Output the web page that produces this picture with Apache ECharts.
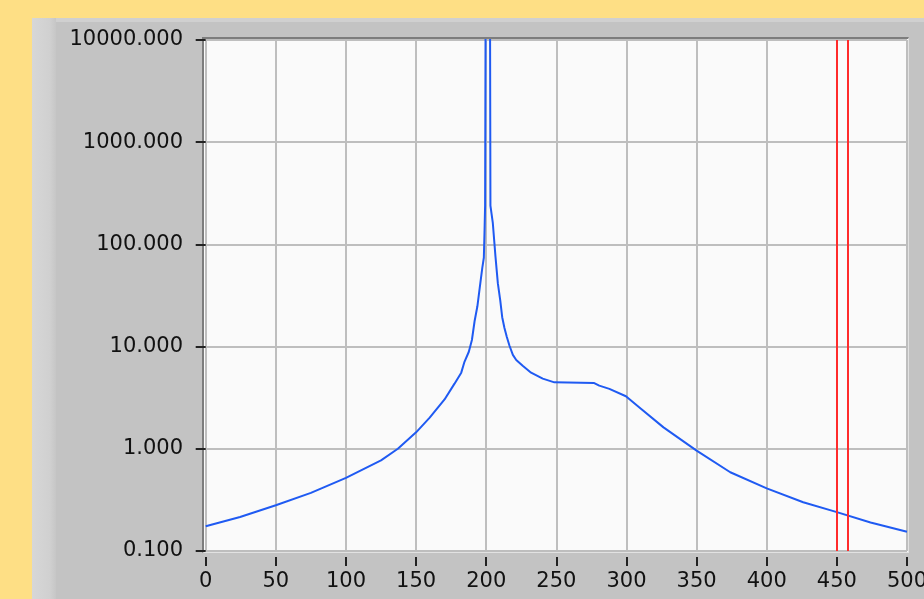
<!DOCTYPE html>
<html>
<head>
<meta charset="utf-8">
<script src="https://cdn.jsdelivr.net/npm/echarts@6/dist/echarts.min.js"></script>
<style>
  html, body { margin: 0; padding: 0; }
  body { width: 924px; height: 599px; background: #FEDF85; position: relative; overflow: hidden; }
  .panel { position: absolute; left: 32px; top: 18px; right: 0; bottom: 0; background: #C3C3C3; border-top: 4px solid #D0D0D0; box-sizing: border-box; }
  .panel-side { position: absolute; left: 32px; top: 18px; width: 24px; bottom: 0; background: linear-gradient(to right, #D7D7D7, #D0D0D0 75%, #C6C6C6); }
  .plot-bg { position: absolute; left: 202px; top: 37px; width: 707px; height: 516px; box-sizing: border-box; background: #FAFAFA; border-left: 2px solid #7D7D7D; border-top: 2px solid #7D7D7D; border-right: 1px solid #E2E2E2; border-bottom: 1px solid #E2E2E2; }
  #chart { position: absolute; left: 0; top: 0; width: 924px; height: 599px; }
</style>
</head>
<body>
<div class="panel"></div>
<div class="panel-side"></div>
<div class="plot-bg"></div>
<div id="chart"></div>
<script>
// 频率点（横轴）
var freqX = [0, 24.5, 50, 75, 100, 125, 137, 150, 159.7, 170.3, 177.4, 182.2, 184.5, 187.6, 189.8, 191.7, 193.7, 195.3, 197.2,
             198.3, 198.8, 199.2, 199.7, 202.6, 203.0, 204.7, 206.6, 208.3, 210, 211.4, 213, 214.7, 216.6, 219, 221.4, 226,
             232, 240.3, 248.6, 277, 280.6, 287.8, 299.6, 310.3, 326.4, 350, 374, 400, 426, 450, 474, 500];
// 幅值（纵轴，对数）
var ampY = [0.175, 0.215, 0.28, 0.37, 0.52, 0.77, 1.0, 1.45, 2.02, 3.04, 4.34, 5.56, 7.1, 8.9, 11.6, 17.7, 24.8, 37, 59,
            74, 136, 240, 100000, 100000, 240, 162, 76, 41.5, 28.4, 19.4, 15.2, 12.4, 10.2, 8.3, 7.4, 6.5,
            5.56, 4.86, 4.47, 4.4, 4.15, 3.86, 3.27, 2.47, 1.62, 0.96, 0.59, 0.41, 0.30, 0.24, 0.19, 0.154];
// 红色游标位置
var cursors = [450, 458];

var xMin = 0, xMax = 500, xStep = 50;
var yMin = 0.1, yMax = 10000;

var myChart = echarts.init(document.getElementById('chart'));

var curve = [];
for (var i = 0; i < freqX.length; i++) {
  curve.push([freqX[i], ampY[i]]);
}

var fontName = 'DejaVu Sans';

myChart.setOption({
  animation: false,
  backgroundColor: 'transparent',
  grid: { left: 205.7, right: 17, top: 40, bottom: 48, outerBoundsMode: 'none' },
  xAxis: {
    type: 'value',
    min: xMin,
    max: xMax,
    interval: xStep,
    offset: 6,
    axisLine: { show: false },
    axisTick: { show: true, length: 9, lineStyle: { color: '#222', width: 2 } },
    axisLabel: { color: '#111', fontFamily: fontName, fontSize: 21, margin: 14 },
    splitLine: { show: true, lineStyle: { color: '#BEBEBE', width: 2 } }
  },
  yAxis: {
    type: 'log',
    logBase: 10,
    min: yMin,
    max: yMax,
    offset: 6.7,
    axisLine: { show: false },
    axisTick: { show: true, length: 10, lineStyle: { color: '#222', width: 2 } },
    axisLabel: {
      color: '#111', fontFamily: fontName, fontSize: 21, margin: 16,
      formatter: function (v) { return Number(v).toFixed(3); }
    },
    splitLine: { show: true, lineStyle: { color: '#BEBEBE', width: 2 } },
    minorTick: { show: false }
  },
  series: [
    {
      type: 'line',
      data: curve,
      symbol: 'none',
      clip: true,
      lineStyle: { color: '#1F5AF2', width: 2 },
      z: 3,
      markLine: {
        silent: true,
        symbol: 'none',
        label: { show: false },
        lineStyle: { color: '#FF2B2B', width: 2, type: 'solid' },
        data: cursors.map(function (c) { return { xAxis: c }; })
      }
    }
  ]
});
</script>
</body>
</html>
